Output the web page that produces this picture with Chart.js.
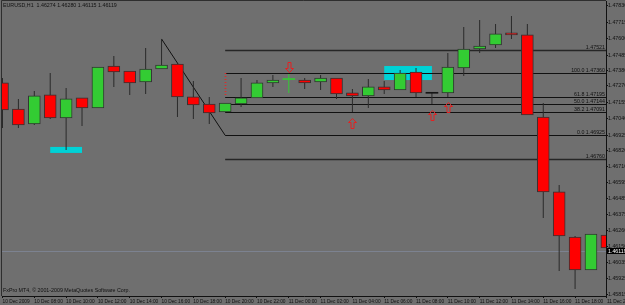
<!DOCTYPE html>
<html>
<head>
<meta charset="utf-8">
<script src="https://cdn.jsdelivr.net/npm/chart.js@4.4.0/dist/chart.umd.min.js"></script>
<style>
  html, body { margin: 0; padding: 0; background: #6f6f6f; }
</style>
</head>
<body>
<canvas id="PriceChart" width="625" height="305"></canvas>
<script>
// EURUSD H1 candles, 10 Dec 2009 06:00 .. 11 Dec 2009 20:00
const opens = [1.47291, 1.47109, 1.47004, 1.47207, 1.47046, 1.47186, 1.47116, 1.47409, 1.47374, 1.47298,
  1.47388, 1.47423, 1.47193, 1.47144, 1.47088, 1.47144, 1.47186, 1.47291, 1.47318, 1.47311,
  1.47298, 1.47325, 1.47221, 1.47200, 1.47263, 1.47242, 1.47367, 1.47222, 1.47221, 1.47395,
  1.47528, 1.47556, 1.47640, 1.47626, 1.47053, 1.46530, 1.46215, 1.45985, 1.46229];
const highs = [1.47325, 1.47179, 1.47235, 1.47360, 1.47256, 1.47186, 1.47402, 1.47479, 1.47374, 1.47535,
  1.47598, 1.47423, 1.47305, 1.47193, 1.47151, 1.47325, 1.47311, 1.47346, 1.47353, 1.47325,
  1.47346, 1.47325, 1.47249, 1.47318, 1.47305, 1.47381, 1.47395, 1.47222, 1.47500, 1.47682,
  1.47730, 1.47703, 1.47758, 1.47703, 1.47151, 1.46578, 1.46222, 1.46236, 1.46229];
const lows = [1.46976, 1.46976, 1.46997, 1.47039, 1.46823, 1.46990, 1.47116, 1.47263, 1.47207, 1.47214,
  1.47388, 1.47053, 1.47039, 1.47004, 1.47088, 1.47123, 1.47186, 1.47263, 1.47221, 1.47249,
  1.47242, 1.47179, 1.47088, 1.47116, 1.47214, 1.47242, 1.47193, 1.47144, 1.47193, 1.47339,
  1.47500, 1.47535, 1.47598, 1.47067, 1.46348, 1.45978, 1.45852, 1.45985, 1.46062];
const closes = [1.47102, 1.46997, 1.47200, 1.47046, 1.47179, 1.47116, 1.47402, 1.47367, 1.47291, 1.47388,
  1.47416, 1.47193, 1.47137, 1.47081, 1.47151, 1.47186, 1.47291, 1.47311, 1.47318, 1.47291,
  1.47325, 1.47214, 1.47200, 1.47263, 1.47242, 1.47360, 1.47221, 1.47221, 1.47402, 1.47528,
  1.47549, 1.47633, 1.47626, 1.47067, 1.46530, 1.46222, 1.45985, 1.46236, 1.46139];

// time axis labels, one every 2 bars
const xTickBars = [0, 2, 4, 6, 8, 10, 12, 14, 16, 18, 20, 22, 24, 26, 28, 30, 32, 34, 36, 38];
const xTickLabels = ['10 Dec 2009', '10 Dec 08:00', '10 Dec 10:00', '10 Dec 12:00', '10 Dec 14:00',
  '10 Dec 16:00', '10 Dec 18:00', '10 Dec 20:00', '10 Dec 22:00', '11 Dec 00:00', '11 Dec 02:00',
  '11 Dec 04:00', '11 Dec 06:00', '11 Dec 08:00', '11 Dec 10:00', '11 Dec 12:00', '11 Dec 14:00',
  '11 Dec 16:00', '11 Dec 18:00', '11 Dec 20:00'];

// price axis labels
const yTickValues = [1.47830, 1.47715, 1.47600, 1.47485, 1.47380, 1.47270, 1.47155, 1.47040, 1.46925,
  1.46820, 1.46710, 1.46595, 1.46485, 1.46375, 1.46260, 1.46150, 1.46035, 1.45925, 1.45815];

// horizontal levels drawn from bar 14 to the right edge (two lines + fibo)
const levelPrices = [1.47521, 1.47360, 1.47193, 1.47144, 1.47088, 1.46925, 1.46757];
const levelTexts = ['1.47521', '100.0 1.47360', '61.8 1.47195', '50.0 1.47144', '38.2 1.47091', '0.0 1.46925', '1.46760'];
const levelStartBar = 14;

// trend line: bar 10 high -> bar 14 at fibo 0.0
const trendBars = [10, 14];
const trendPrices = [1.47598, 1.46925];

// cyan rectangles [bar from, bar to], [price top, price bottom]
const boxBars = [[3, 5], [24, 27]];
const boxPrices = [[1.46844, 1.46802], [1.47409, 1.47311]];

// fractal arrows
const fractalBars = [18, 22, 27, 28];
const fractalPrices = [1.47402, 1.47008, 1.47070, 1.47123];
const fractalDirs = ['down', 'up', 'up', 'up'];

const bidPrice = 1.46119;
const titleText = 'EURUSD,H1  1.46274 1.46280 1.46115 1.46119';
const footText = 'FxPro MT4, \u00A9 2001-2009 MetaQuotes Software Corp.';

const GREEN = '#33cc33';
const RED = '#ff0000';
const BG = '#6f6f6f';
const FONT = '"Liberation Sans", Arial, sans-serif';

const HALF_PX = 0.000035;
const isDoji = i => Math.abs(closes[i] - opens[i]) < 0.00003;

const bodyData = opens.map((o, i) => ({
  x: i,
  y: isDoji(i) ? [o - HALF_PX, o + HALF_PX] : [o, closes[i]]
}));
const bodyColors = opens.map((o, i) => {
  if (isDoji(i)) return closes[i] >= o ? GREEN : '#151515';
  return closes[i] > o ? GREEN : RED;
});
const wickData = highs.map((h, i) => ({ x: i, y: [lows[i], h] }));
const wickColors = opens.map((o, i) => (isDoji(i) && closes[i] >= o) ? GREEN : '#2a2a2a');

function drawArrow(c, x, y, dir) {
  const s = dir === 'up' ? 1 : -1;
  c.beginPath();
  c.moveTo(x, y - 5 * s);
  c.lineTo(x + 4, y - 1 * s);
  c.lineTo(x + 1.5, y - 1 * s);
  c.lineTo(x + 1.5, y + 5 * s);
  c.lineTo(x - 1.5, y + 5 * s);
  c.lineTo(x - 1.5, y - 1 * s);
  c.lineTo(x - 4, y - 1 * s);
  c.closePath();
  c.stroke();
}

const mtPlugin = {
  id: 'mtObjects',
  beforeDraw(chart) {
    const c = chart.ctx;
    c.save();
    c.fillStyle = BG;
    c.fillRect(0, 0, chart.width, chart.height);
    c.restore();
  },
  beforeDatasetsDraw(chart) {
    const c = chart.ctx;
    const xs = chart.scales.x, ys = chart.scales.y;
    const area = chart.chartArea;
    c.save();
    c.beginPath();
    c.rect(area.left, area.top, area.right - area.left, area.bottom - area.top);
    c.clip();

    // bid line
    const by = Math.round(ys.getPixelForValue(bidPrice)) + 0.5;
    c.strokeStyle = '#7c8290';
    c.lineWidth = 1;
    c.beginPath();
    c.moveTo(area.left, by);
    c.lineTo(area.right, by);
    c.stroke();

    // cyan boxes
    c.fillStyle = '#00d2d6';
    boxBars.forEach((b, k) => {
      const x0 = xs.getPixelForValue(b[0]), x1 = xs.getPixelForValue(b[1]);
      const y0 = ys.getPixelForValue(boxPrices[k][0]), y1 = ys.getPixelForValue(boxPrices[k][1]);
      c.fillRect(x0, y0, x1 - x0, y1 - y0);
    });

    // levels
    const lx = xs.getPixelForValue(levelStartBar);
    levelPrices.forEach((p, k) => {
      const y = Math.round(ys.getPixelForValue(p)) + 0.5;
      const thick = k === 0 || k === levelPrices.length - 1;
      c.strokeStyle = thick ? '#262626' : '#111';
      c.lineWidth = thick ? 1.6 : 1;
      c.beginPath();
      c.moveTo(lx, y);
      c.lineTo(area.right, y);
      c.stroke();
    });

    // fibo dotted anchor
    c.strokeStyle = '#e02a2a';
    c.setLineDash([1, 2]);
    c.beginPath();
    c.moveTo(Math.round(lx) + 0.5, ys.getPixelForValue(levelPrices[1]));
    c.lineTo(Math.round(lx) + 0.5, ys.getPixelForValue(levelPrices[2]));
    c.stroke();
    c.setLineDash([]);

    // trend line
    c.strokeStyle = '#111';
    c.lineWidth = 1;
    c.beginPath();
    c.moveTo(xs.getPixelForValue(trendBars[0]), ys.getPixelForValue(trendPrices[0]));
    c.lineTo(xs.getPixelForValue(trendBars[1]), ys.getPixelForValue(trendPrices[1]));
    c.stroke();

    // level texts
    c.fillStyle = '#111';
    c.font = '5.3px ' + FONT;
    c.textAlign = 'right';
    c.textBaseline = 'bottom';
    levelPrices.forEach((p, k) => {
      const y = Math.round(ys.getPixelForValue(p));
      c.fillText(levelTexts[k], area.right - 1, y);
    });
    c.restore();
  },
  afterDatasetsDraw(chart) {
    const c = chart.ctx;
    const xs = chart.scales.x, ys = chart.scales.y;
    c.save();
    c.strokeStyle = '#e32222';
    c.lineWidth = 1;
    fractalBars.forEach((b, k) => {
      drawArrow(c, Math.round(xs.getPixelForValue(b)) + 0.5, Math.round(ys.getPixelForValue(fractalPrices[k])) + 0.5, fractalDirs[k]);
    });
    c.restore();
  },
  afterDraw(chart) {
    const c = chart.ctx;
    const area = chart.chartArea;
    const ys = chart.scales.y;
    c.save();
    // frame top / left
    c.strokeStyle = '#2e2e2e';
    c.lineWidth = 1;
    c.beginPath();
    c.moveTo(area.left - 0.5, area.top - 0.5);
    c.lineTo(area.right, area.top - 0.5);
    c.moveTo(area.left - 0.5, area.top - 0.5);
    c.lineTo(area.left - 0.5, area.bottom);
    c.stroke();

    c.font = '5.3px ' + FONT;
    c.fillStyle = '#111';
    c.textAlign = 'left';
    c.textBaseline = 'middle';
    c.fillText(titleText, area.left + 1, 6);
    c.fillText(footText, area.left + 1, 291);

    // bid label on price axis
    const by = Math.round(ys.getPixelForValue(bidPrice));
    c.fillStyle = '#000';
    c.fillRect(area.right + 1, by - 3, chart.width - area.right, 6);
    c.fillStyle = '#fff';
    c.fillText(bidPrice.toFixed(5), area.right + 2, by + 0.5);
    c.restore();
  }
};

const ctx = document.getElementById('PriceChart').getContext('2d');

new Chart(ctx, {
  type: 'bar',
  data: {
    datasets: [{
      label: 'body',
      data: bodyData,
      backgroundColor: bodyColors,
      borderColor: '#333333',
      borderWidth: c => isDoji(c.dataIndex) ? 0 : 1,
      borderSkipped: false,
      barThickness: 12,
      grouped: false,
      clip: 0
    }, {
      label: 'wick',
      data: wickData,
      backgroundColor: wickColors,
      borderWidth: 0,
      barThickness: 1,
      grouped: false,
      inflateAmount: 0,
      clip: 0
    }]
  },
  options: {
    responsive: false,
    animation: false,
    devicePixelRatio: 1,
    events: [],
    layout: { padding: { left: 2, top: 1, right: 0, bottom: 0 } },
    plugins: {
      legend: { display: false },
      tooltip: { enabled: false }
    },
    scales: {
      x: {
        type: 'linear',
        offset: false,
        min: -0.031,
        max: 37.944,
        bounds: 'data',
        afterBuildTicks: s => { s.ticks = xTickBars.map(v => ({ value: v })); },
        afterFit: s => {
          s.height = 9;
          s.paddingLeft = 0; s.paddingRight = 0; s.paddingTop = 0; s.paddingBottom = 0;
        },
        grid: { drawOnChartArea: false, drawTicks: true, tickLength: 2, color: '#111', offset: false },
        border: { display: true, color: '#111', width: 1 },
        ticks: {
          autoSkip: false,
          maxRotation: 0,
          minRotation: 0,
          align: 'start',
          padding: 1,
          color: '#111',
          font: { size: 4.8, family: FONT },
          callback: (v, i) => xTickLabels[i]
        }
      },
      y: {
        position: 'right',
        min: 1.45803,
        max: 1.47863,
        bounds: 'data',
        afterBuildTicks: s => { s.ticks = yTickValues.map(v => ({ value: v })); },
        afterFit: s => {
          s.width = 19;
          s.paddingLeft = 0; s.paddingRight = 0; s.paddingTop = 0; s.paddingBottom = 0;
        },
        grid: { drawOnChartArea: false, drawTicks: true, tickLength: 2, color: '#111' },
        border: { display: true, color: '#111', width: 1 },
        ticks: {
          padding: 0,
          color: '#111',
          font: { size: 5.3, family: FONT },
          callback: v => v.toFixed(5)
        }
      }
    }
  },
  plugins: [mtPlugin]
});
</script>
</body>
</html>
